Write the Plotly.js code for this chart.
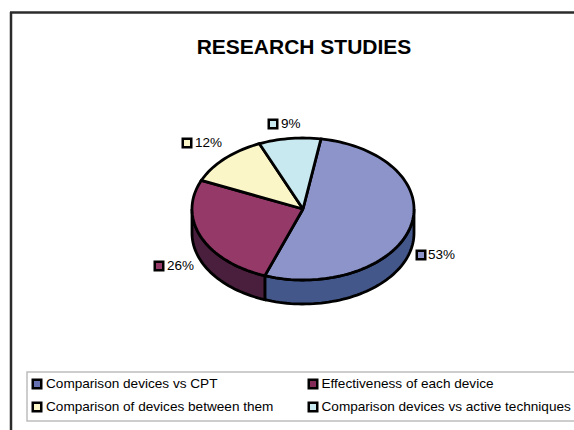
<!DOCTYPE html>
<html><head><meta charset="utf-8">
<script src="https://cdn.plot.ly/plotly-3.0.1.min.js"></script>
<style>html,body{margin:0;padding:0;background:#fff}#c{width:574px;height:430px}</style>
</head><body><div id="c"></div>
<script>
const categories = ['Comparison devices vs CPT','Effectiveness of each device','Comparison of devices between them','Comparison devices vs active techniques'];
const values = [53,26,12,9];
const labels = ['53%','26%','12%','9%'];
const topColors = ['#8C94C9','#953A68','#FAF6C8','#C8E9EF'];
const sideColors = ['#44578A','#4A1F3D','#FAF6C8','#C8E9EF'];
const legendColors = ['#6570B0','#842A58','#FAF6C8','#C8E9EF'];
const startDeg = 9.3;
const cx=303, cy=209, rx=111, ry=71, depth=24;
const labelX = [421,159,187,273];
const labelY = [255,266,143,124];
const labelTextX = [428,167,195,281];
const legendX = [37,313,37,313];
const legendY = [384,384,407,407];
const legendTextX = [46,321.5,46,321.5];
const textDrop = 1;
const font='Liberation Sans, Arial, sans-serif';

const total = values.reduce((a,b)=>a+b,0);
const pt = (deg,dy=0)=>{const t=deg*Math.PI/180;return [cx+rx*Math.sin(t),cy-ry*Math.cos(t)+dy];};
const arc = (a,b,dy=0)=>{const n=Math.max(2,Math.ceil(Math.abs(b-a)/2));const o=[];for(let i=0;i<=n;i++)o.push(pt(a+(b-a)*i/n,dy));return o;};
const poly=(pts,fill,name)=>({type:'scatter',mode:'lines',x:pts.map(p=>p[0]),y:pts.map(p=>p[1]),fill:'toself',fillcolor:fill,line:{color:'#000',width:2.8,simplify:false},showlegend:false,hoverinfo:'skip',name});
const traces=[];
let ang=startDeg; const spans=[];
values.forEach(v=>{const e=ang+v/total*360;spans.push([ang,e]);ang=e;});
spans.forEach((s,i)=>{
  const a=Math.max(s[0],90),b=Math.min(s[1],270);
  if(b>a){const top=arc(a,b),bot=arc(b,a,depth);traces.push(poly(top.concat(bot,[top[0]]),sideColors[i],categories[i]+' side'));}
});
spans.forEach((s,i)=>{
  const pts=[[cx,cy]].concat(arc(s[0],s[1]),[[cx,cy]]);
  traces.push(poly(pts,topColors[i],categories[i]));
});
const keys=(x,y,c,name)=>({type:'scatter',mode:'markers',x,y,marker:{symbol:'square',size:8.5,color:c,line:{color:'#000',width:2.5}},showlegend:false,hoverinfo:'skip',cliponaxis:false,name});
const texts=(x,y,t,size,name)=>({type:'scatter',mode:'text',x,y:y.map(v=>v+textDrop),text:t,textposition:'middle right',textfont:{family:font,size,color:'#000'},showlegend:false,hoverinfo:'skip',cliponaxis:false,name});
traces.push(keys(labelX,labelY,topColors,'label keys'),texts(labelTextX,labelY,labels,13.5,'labels'));
traces.push(keys(legendX,legendY,legendColors,'legend keys'),texts(legendTextX,legendY,categories,13.6,'legend'));
const layout={width:574,height:430,margin:{l:0,r:0,t:0,b:0},paper_bgcolor:'#fff',plot_bgcolor:'#fff',showlegend:false,
 xaxis:{range:[0,574],visible:false,fixedrange:true},
 yaxis:{range:[430,0],visible:false,fixedrange:true},
 font:{family:font,color:'#000'},
 title:{text:'<b>RESEARCH STUDIES</b>',font:{size:21,family:font,color:'#000'},x:304/574,xanchor:'center',y:1-47/430,yanchor:'middle'},
 shapes:[
  {type:'line',x0:11,x1:11,y0:12,y1:430,line:{color:'#2b2b2b',width:2.5}},
  {type:'line',x0:10,x1:574,y0:12.5,y1:12.5,line:{color:'#2b2b2b',width:2.5}},
  {type:'rect',x0:27,x1:580,y0:372,y1:421,line:{color:'#bdbdbd',width:1.5},fillcolor:'rgba(0,0,0,0)'}
 ]
};
Plotly.newPlot('c',traces,layout,{displayModeBar:false,staticPlot:true});
</script></body></html>
